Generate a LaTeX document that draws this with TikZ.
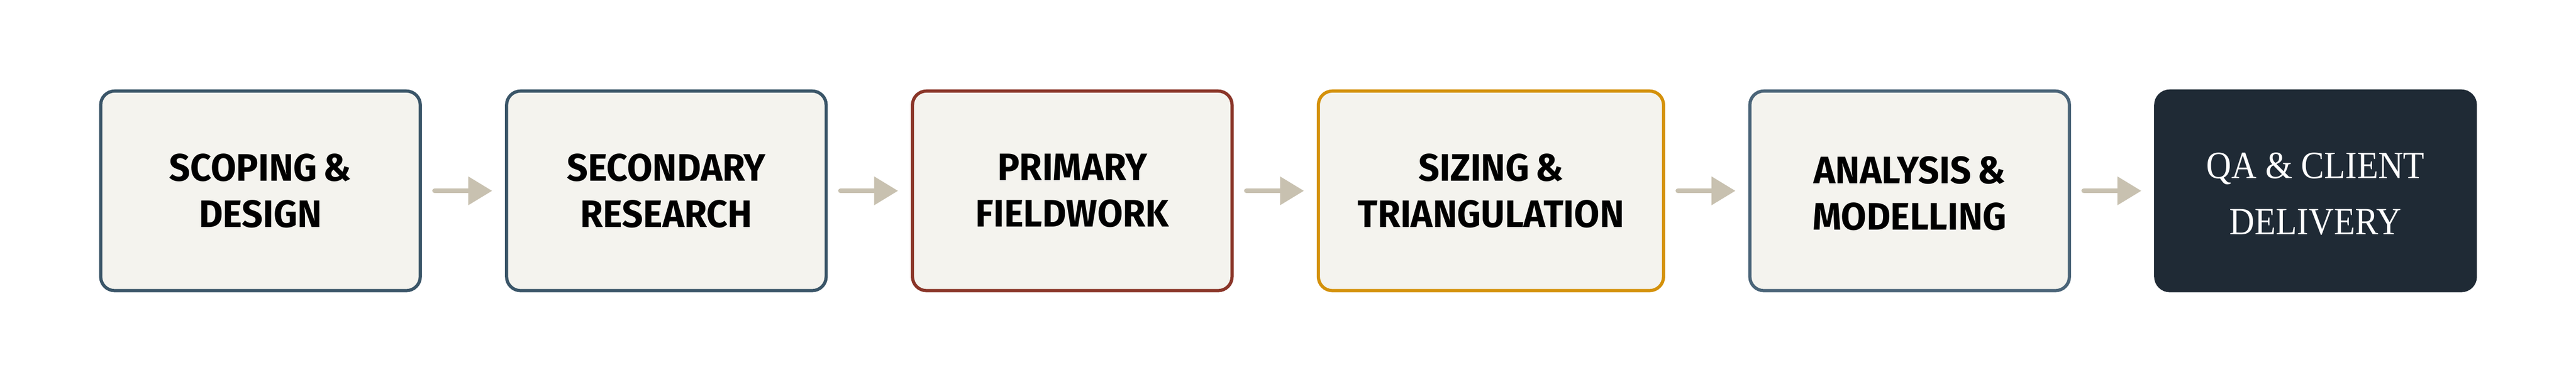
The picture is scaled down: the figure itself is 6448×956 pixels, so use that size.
\documentclass[tikz,border=0pt]{standalone}
\usepackage{fontspec}
\usetikzlibrary{arrows.meta}
\newfontfamily\stagefont{Fira Sans}[FakeStretch=0.96]
\newfontfamily\finalfont{Liberation Serif}[FakeStretch=0.9]
\definecolor{paper}{HTML}{F4F3EE}
\definecolor{slate}{HTML}{3A5568}
\definecolor{slatelight}{HTML}{4A6478}
\definecolor{rust}{HTML}{8A3528}
\definecolor{gold}{HTML}{D4910A}
\definecolor{ink}{HTML}{1F2A35}
\definecolor{arrowc}{HTML}{C8C1B0}
\newcommand\capstrut[1]{\rule{0pt}{#1}}
\newcommand\amp{\kern0.16em\&}
\begin{document}
\begin{tikzpicture}[x=0.1mm,y=-0.1mm,
  stage/.style={draw=#1, fill=paper, line width=0.8mm, rounded corners=3.5mm,
    minimum width=80mm, minimum height=50mm, inner sep=0pt, align=center,
    text=black, font=\stagefont\bfseries\fontsize{27.3pt}{33pt}\selectfont},
  final/.style={draw=ink, fill=ink, line width=0.8mm, rounded corners=3.5mm,
    minimum width=80mm, minimum height=50mm, inner sep=0pt, align=center,
    text=white, font=\finalfont\fontsize{27.5pt}{40.1pt}\selectfont},
  flow/.style={draw=arrowc, line width=1.2mm, line cap=round,
    -{Triangle[length=6mm,width=6.9mm]}, shorten <=3.2mm, shorten >=3.2mm}]
\useasboundingbox (0,0) rectangle (6448,956);
\node[stage=slate] (s1) at (652,478) {SCOPING\amp\\DESIGN};
\node[stage=slate] (s2) at (1668,478) {SECONDARY\\RESEARCH};
\node[stage=rust] (s3) at (2684,478) {PRIMARY\\FIELDWORK};
\node[stage=gold, minimum width=86.4mm] (s4) at (3732,478) {SIZING\amp\\TRIANGULATION};
\node[stage=slatelight] (s5) at (4780,478) {\capstrut{8mm}ANALYSIS\amp\\MODELLING};
\node[final] (s6) at (5796,478) {\capstrut{7.9mm}QA \& CLIENT\\DELIVERY};
\draw[flow] (s1) -- (s2);
\draw[flow] (s2) -- (s3);
\draw[flow] (s3) -- (s4);
\draw[flow] (s4) -- (s5);
\draw[flow] (s5) -- (s6);
\end{tikzpicture}
\end{document}
